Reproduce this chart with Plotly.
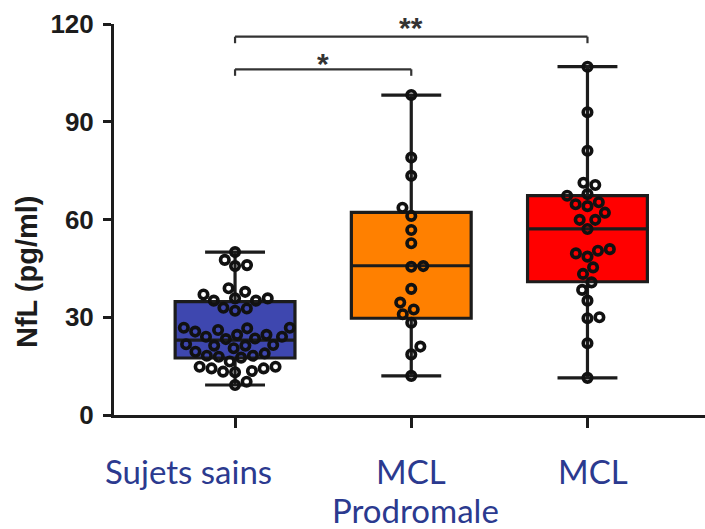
import numpy as np
import plotly.graph_objects as go

# ---- data -------------------------------------------------------------
categories = ["Sujets sains", "MCL<br>Prodromale", "MCL"]

sains = [50.0, 47.6, 46.0, 45.7, 38.9, 37.8, 37.0, 35.8, 35.1, 35.1, 35.8,
         32.9, 32.7, 32.0, 26.8, 26.8, 26.6, 26.1, 25.6, 24.6, 24.6, 24.0,
         24.0, 23.5, 23.3, 21.7, 21.5, 21.3, 21.3, 20.5, 19.4, 18.9, 18.2,
         18.2, 17.9, 17.6, 16.4, 14.8, 14.8, 14.3, 14.3, 13.5, 13.3, 13.1,
         10.2, 9.2]
prodromale = [98.2, 79.0, 73.4, 63.6, 61.1, 56.8, 52.7, 45.7, 45.5, 38.7,
              34.5, 32.4, 30.9, 28.3, 21.0, 18.6, 12.0]
mcl = [106.9, 92.9, 81.1, 71.3, 70.6, 67.8, 67.3, 65.3, 64.7, 64.1, 62.1,
       59.9, 59.9, 57.1, 50.9, 50.4, 49.6, 48.6, 45.3, 43.3, 40.7, 38.4,
       35.1, 30.0, 29.7, 22.0, 11.4]

q1 = [17.5, 29.7, 40.9]
medians = [23.0, 45.8, 57.1]
q3 = [34.8, 62.2, 67.3]

y_ticks = [0, 30, 60, 90, 120]
comparisons = [(0, 1, "*"), (0, 2, "**")]

# ---- styling / geometry ----------------------------------------------
groups = [sains, prodromale, mcl]
fills = ["#3E47AF", "#FF8000", "#FF0000"]
ink = "#1C1C1C"
label_blue = "#2B3A8F"

W, H = 705, 529
margin = dict(l=114, r=0, t=24, b=114)
x_range = [-0.687, 2.667]
y_range = [0, 120]
px_per_x = (W - margin["l"] - margin["r"]) / (x_range[1] - x_range[0])
px_per_y = (H - margin["t"] - margin["b"]) / (y_range[1] - y_range[0])


def swarm_offsets(values, diameter=12.0):
    """Beeswarm layout: horizontal offsets (data units) so circles don't overlap."""
    values = np.asarray(values, dtype=float)
    order = np.argsort(values, kind="stable")
    placed = []
    offsets = np.zeros(len(values))
    flip = 1
    for i in order:
        y = values[i] * px_per_y
        cands = [0.0]
        for (px, py) in placed:
            dy = y - py
            if abs(dy) < diameter:
                dx = np.sqrt(diameter ** 2 - dy ** 2)
                cands += [px + dx, px - dx]
        ok = [c for c in cands
              if all((c - px) ** 2 + (y - py) ** 2 >= diameter ** 2 - 1e-6
                     for px, py in placed)]
        best = min(ok, key=lambda c: (round(abs(c), 2), -flip * np.sign(c)))
        if abs(best) > 1e-9:
            flip = -flip
        placed.append((best, y))
        offsets[i] = best / px_per_x
    return offsets


fig = go.Figure()

# boxes from the summary statistics, whiskers to min / max
for i, vals in enumerate(groups):
    fig.add_trace(go.Box(
        x=[i], q1=[q1[i]], median=[medians[i]], q3=[q3[i]],
        lowerfence=[min(vals)], upperfence=[max(vals)],
        width=0.68, whiskerwidth=0.5, fillcolor=fills[i],
        line=dict(color=ink, width=3.2), boxpoints=False,
        hoverinfo="skip", showlegend=False,
    ))

# individual values as open circles in a swarm
for i, vals in enumerate(groups):
    xs = i + swarm_offsets(vals)
    fig.add_trace(go.Scatter(
        x=xs, y=vals, mode="markers",
        marker=dict(symbol="circle-open", size=8.5, color="#111111",
                    line=dict(width=3.6, color="#111111")),
        showlegend=False, cliponaxis=False,
    ))

# significance brackets
bracket_levels = [106.1, 116.1]
star_lift = [-13, -9]
tick_drop = 2.0
shapes = []
annotations = []
for k, (a, b, stars) in enumerate(comparisons):
    yb = bracket_levels[k]
    for x0, y0, x1, y1 in [(a, yb, b, yb), (a, yb, a, yb - tick_drop),
                           (b, yb, b, yb - tick_drop)]:
        shapes.append(dict(type="line", xref="x", yref="y", x0=x0, y0=y0,
                           x1=x1, y1=y1, line=dict(color="#333333", width=2.2)))
    annotations.append(dict(
        x=(a + b) / 2, y=yb, xref="x", yref="y", text="<b>" + stars + "</b>",
        showarrow=False, yanchor="bottom", yshift=star_lift[k],
        font=dict(family="Liberation Sans, Arial", size=30, color="#333333"),
    ))

# category labels under the axis
label_dx = [-47, 0, 6]
for i, cat in enumerate(categories):
    for k, line in enumerate(cat.split("<br>")):
        annotations.append(dict(
            x=i, y=0, xref="x", yref="y", text=line, showarrow=False,
            xanchor="center", yanchor="middle",
            xshift=label_dx[i] + (4 if k else 0), yshift=-56 - 39 * k,
            font=dict(family="Lato", size=33, color=label_blue),
        ))

# y axis title
annotations.append(dict(
    x=(27 - margin["l"]) / (W - margin["l"] - margin["r"]),
    y=(415 - 272) / (H - margin["t"] - margin["b"]),
    xref="paper", yref="paper", text="<b>NfL (pg/ml)</b>", showarrow=False,
    textangle=-90, xanchor="center", yanchor="middle",
    font=dict(family="Liberation Sans, Arial", size=29, color=ink),
))

fig.update_layout(
    width=W, height=H, margin=margin,
    paper_bgcolor="white", plot_bgcolor="white",
    shapes=shapes, annotations=annotations,
    xaxis=dict(range=x_range, showgrid=False, zeroline=False,
               showline=True, linecolor=ink, linewidth=3,
               tickvals=[0, 1, 2], ticks="outside", ticklen=10, tickwidth=3,
               tickcolor=ink, showticklabels=False),
    yaxis=dict(range=y_range, showgrid=False, zeroline=False,
               showline=True, linecolor=ink, linewidth=3,
               tickvals=y_ticks, ticks="outside", ticklen=8, tickwidth=3,
               tickcolor=ink, ticklabelstandoff=4,
               tickfont=dict(family="Liberation Sans, Arial", size=26,
                             color=ink, weight="bold")),
)

fig.write_html("out.html")
